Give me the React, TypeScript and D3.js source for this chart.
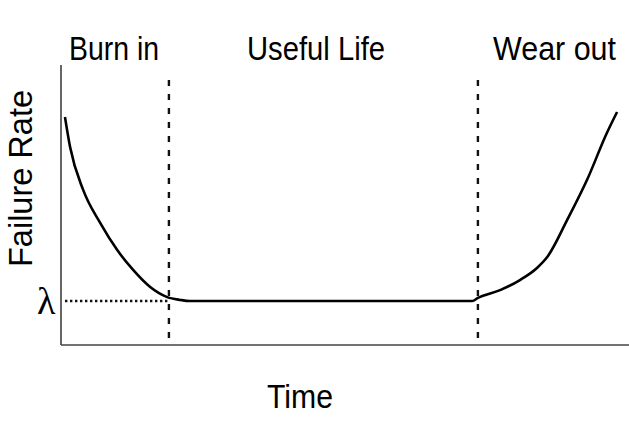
import React from "react";
import * as d3 from "d3";

// Bathtub curve: time (0..100) vs failure rate (0..10)
const curveTime = [0.7, 1.6, 3.9, 6.9, 9.9, 12.7, 15.7, 18.7, 21.0, 22.7, 72.4, 73.4, 77.3, 80.8, 83.8, 85.6, 89.1, 92.6, 96.1, 97.9];
const curveRate = [8.14, 7.07, 5.54, 4.36, 3.39, 2.68, 2.07, 1.71, 1.61, 1.57, 1.57, 1.68, 1.96, 2.32, 2.75, 3.14, 4.46, 5.89, 7.57, 8.32];
const lambdaRate = 1.57;
const phaseBoundaries = [19.0, 73.4];
const phaseLabels = ["Burn in", "Useful Life", "Wear out"];
const phaseLabelX = [69, 247, 493];
const phaseLabelW = [90, 138, 123];

const W = 629;
const H = 421;

export default function App() {
  const x = d3.scaleLinear().domain([0, 100]).range([61, 629]);
  const y = d3.scaleLinear().domain([0, 10]).range([345, 65]);
  const pts: [number, number][] = curveTime.map((t, i) => [t, curveRate[i]]);
  const line = d3
    .line<[number, number]>()
    .x((d) => x(d[0]))
    .y((d) => y(d[1]))
    .curve(d3.curveMonotoneX);

  const font = "'Liberation Sans', Arial, sans-serif";

  return (
    <svg
      width={W}
      height={H}
      style={{ position: "absolute", left: 0, top: 0, background: "#fff" }}
    >
      {/* axes */}
      <line x1={x(0)} x2={x(0)} y1={y(10)} y2={y(0)} stroke="#333" strokeWidth={1.5} />
      <line x1={x(0)} x2={x(100)} y1={y(0)} y2={y(0)} stroke="#444" strokeWidth={1.5} />

      {/* phase boundaries */}
      {phaseBoundaries.map((b, i) => (
        <line
          key={i}
          x1={x(b)}
          x2={x(b)}
          y1={80}
          y2={y(0)}
          stroke="#111"
          strokeWidth={2.4}
          strokeDasharray="6,8"
        />
      ))}

      {/* lambda dotted line */}
      <line
        x1={x(0.7)}
        x2={x(phaseBoundaries[0])}
        y1={y(lambdaRate)}
        y2={y(lambdaRate)}
        stroke="#111"
        strokeWidth={2.6}
        strokeDasharray="2.4,2.6"
      />

      {/* curve */}
      <path d={line(pts) || ""} fill="none" stroke="#000" strokeWidth={2.6} />

      {/* phase labels */}
      {phaseLabels.map((l, i) => (
        <text
          key={l}
          x={phaseLabelX[i]}
          y={60}
          fontFamily={font}
          fontSize={33}
          textLength={phaseLabelW[i]}
          lengthAdjust="spacingAndGlyphs"
          fill="#000"
        >
          {l}
        </text>
      ))}

      {/* axis titles */}
      <text
        x={267}
        y={408}
        fontFamily={font}
        fontSize={34}
        textLength={66}
        lengthAdjust="spacingAndGlyphs"
        fill="#000"
      >
        Time
      </text>
      <text
        transform="translate(32,178.5) rotate(-90)"
        textAnchor="middle"
        fontFamily={font}
        fontSize={34}
        textLength={177}
        lengthAdjust="spacingAndGlyphs"
        fill="#000"
      >
        Failure Rate
      </text>
      <text x={37} y={314} fontFamily="'Liberation Serif', serif" fontSize={38} fill="#000">
        λ
      </text>
    </svg>
  );
}
